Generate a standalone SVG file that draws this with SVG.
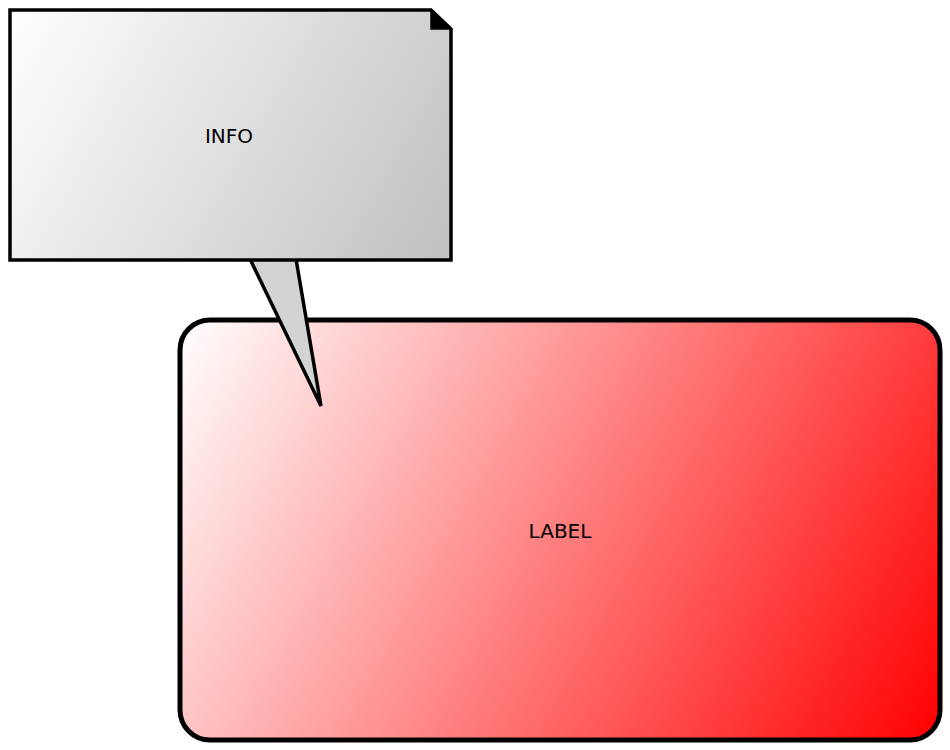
<svg xmlns="http://www.w3.org/2000/svg" width="950" height="750" viewBox="0 0 950 750">
<defs>
<linearGradient id="gRed" gradientUnits="userSpaceOnUse" x1="180" y1="320" x2="940" y2="740">
<stop offset="0" stop-color="#ffffff"/>
<stop offset="1" stop-color="#ff0000"/>
</linearGradient>
<linearGradient id="gGrey" gradientUnits="userSpaceOnUse" x1="10" y1="10" x2="451" y2="260">
<stop offset="0" stop-color="#ffffff"/>
<stop offset="1" stop-color="#c0c0c0"/>
</linearGradient>
<style>
text{font-family:"DejaVu Sans","Liberation Sans",sans-serif;font-size:20px;fill:#000;text-anchor:middle}
.ln{stroke:#000;stroke-linejoin:miter}
</style>
</defs>
<rect width="950" height="750" fill="#fff"/>
<g id="label">
<rect class="ln" x="180" y="320" width="760" height="420" rx="30" ry="30" fill="url(#gRed)" stroke-width="5"/>
<text x="560" y="538">LABEL</text>
</g>
<g id="connectors">
<polygon class="ln" points="250,259 296,259 321,406" fill="#d3d3d3" stroke-width="3.5"/>
</g>
<g id="info">
<path class="ln" d="M10,10 L431,10 L451,29 L451,260 L10,260 Z" fill="url(#gGrey)" stroke-width="3.5"/>
<path class="ln" d="M431,10 L451,29 L431,29 Z" fill="#000" stroke-width="1.5"/>
<text x="229" y="143">INFO</text>
</g>
</svg>
